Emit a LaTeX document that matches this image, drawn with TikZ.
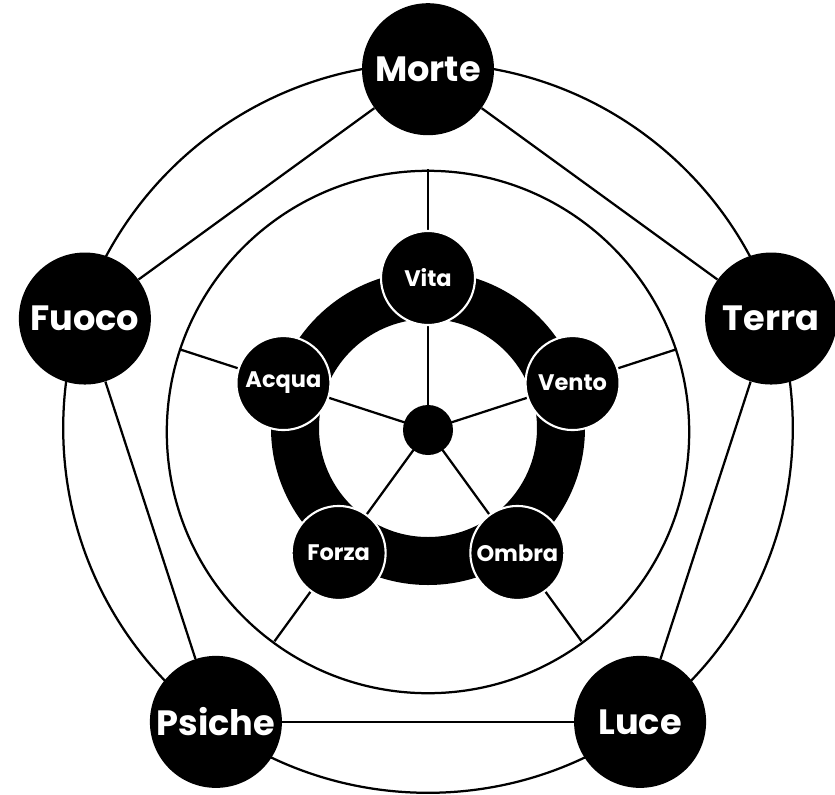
\documentclass[tikz,border=0pt]{standalone}
\usepackage{fontspec}
\setmainfont{Poppins}
\usetikzlibrary{positioning}

\begin{document}
\begin{tikzpicture}[
  ring/.style={draw=black, line width=1.6pt},
  spoke/.style={draw=black, line width=1.6pt},
  edge/.style={draw=black, line width=1.6pt},
  outer/.style={circle, fill=black, text=white, minimum size=3.3cm,
                inner sep=0pt, font=\fontsize{25}{27}\selectfont\bfseries},
  inner/.style={circle, fill=black, draw=white, line width=1.5pt,
                text=white, minimum size=2.35cm, inner sep=0pt,
                font=\fontsize{16}{18}\selectfont\bfseries},
  hubdot/.style={circle, fill=black, minimum size=1.25cm, inner sep=0pt},
]
\useasboundingbox (-10.7,-9.1) rectangle (10.175,10.75);

% the two guide circles
\draw[ring] (0,0.05) circle (9.12);
\draw[ring] (0,-0.05) circle (6.53);

% ends of the spokes on the middle circle
\coordinate (rVita)  at (90:6.53);
\coordinate (rVento) at (18:6.53);
\coordinate (rOmbra) at (-54:6.53);
\coordinate (rForza) at (-126:6.53);
\coordinate (rAcqua) at (162:6.53);
\coordinate (c) at (0,0);

\draw[spoke] (c) -- (rVita);
\draw[spoke] (c) -- (rVento);
\draw[spoke] (c) -- (rOmbra);
\draw[spoke] (c) -- (rForza);
\draw[spoke] (c) -- (rAcqua);

% thick inner ring
\draw[black, line width=1.2cm] (0,0.05) circle (3.325);

\node[hubdot] (hub) at (0,0) {};

\node[inner] (vita)  at (0,3.8)         {Vita};
\node[inner] (vento) at (3.614,1.174)   {Vento};
\node[inner] (ombra) at (2.234,-3.074)  {Ombra};
\node[inner] (forza) at (-2.234,-3.074) {Forza};
\node[inner] (acqua) at (-3.614,1.174)  {Acqua};

% outer pentagon
\node[outer] (morte)  at (0,9.02)        {Morte};
\node[outer] (terra)  at (8.578,2.787)   {Terra};
\node[outer] (luce)   at (5.302,-7.297)  {Luce};
\node[outer] (psiche) at (-5.302,-7.297) {Psiche};
\node[outer] (fuoco)  at (-8.578,2.787)  {Fuoco};

\draw[edge] (morte) -- (terra);
\draw[edge] (terra) -- (luce);
\draw[edge] (luce) -- (psiche);
\draw[edge] (psiche) -- (fuoco);
\draw[edge] (fuoco) -- (morte);
\end{tikzpicture}
\end{document}
